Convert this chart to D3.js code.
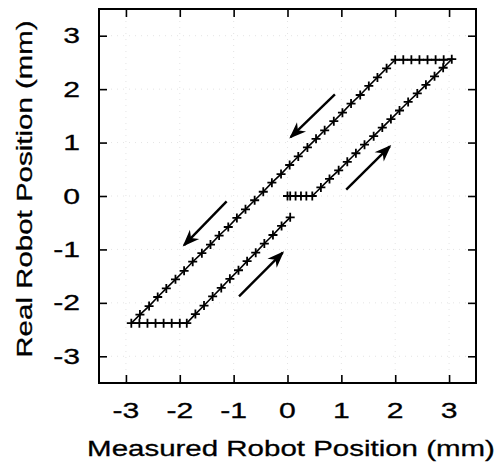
<!DOCTYPE html>
<html>
<head>
<meta charset="utf-8">
<script src="https://cdn.jsdelivr.net/npm/d3@7"></script>
<style>
  body { margin: 0; background: #fff; }
  text { font-family: "Liberation Sans", Arial, sans-serif; fill: #000; stroke: #000; stroke-width: 0.3px; }
</style>
</head>
<body>
<div id="chart"></div>
<script>
// Measured vs real position (mm)
// path order: backlash at 0, up the right side, across the top, down the left, across the bottom, up again
const measuredPos = [
    0.00, 0.05, 0.15, 0.25, 0.35, 0.46,
    0.62, 0.78, 0.95, 1.11, 1.27, 1.43, 1.60, 1.76, 1.92, 2.08, 2.24, 2.41, 2.57, 2.73, 2.89, 3.05,
    2.90, 2.75, 2.60, 2.45, 2.30, 2.15, 2.00,
    1.84, 1.67, 1.51, 1.35, 1.18, 1.02, 0.86, 0.69, 0.53, 0.37,
    0.20, 0.04, -0.12, -0.29, -0.45, -0.61, -0.78, -0.94, -1.10, -1.27,
    -1.43, -1.59, -1.76, -1.92, -2.08, -2.25, -2.41, -2.57, -2.74, -2.90,
    -2.75, -2.60, -2.45, -2.30, -2.15, -2.00, -1.87,
    -1.71, -1.55, -1.39, -1.23, -1.07, -0.91, -0.75, -0.59, -0.43, -0.27, -0.11, 0.05
];
const realPos = [
    0.00, 0.00, 0.00, 0.00, 0.00, 0.00,
    0.16, 0.32, 0.48, 0.64, 0.80, 0.96, 1.12, 1.28, 1.44, 1.60, 1.76, 1.92, 2.08, 2.24, 2.40, 2.56,
    2.55, 2.55, 2.55, 2.55, 2.55, 2.55, 2.55,
    2.39, 2.22, 2.06, 1.89, 1.73, 1.56, 1.40, 1.23, 1.07, 0.91,
    0.74, 0.58, 0.41, 0.25, 0.08, -0.08, -0.25, -0.41, -0.58, -0.74,
    -0.91, -1.07, -1.23, -1.40, -1.56, -1.73, -1.89, -2.06, -2.22, -2.38,
    -2.38, -2.38, -2.38, -2.38, -2.38, -2.38, -2.38,
    -2.21, -2.05, -1.88, -1.72, -1.55, -1.39, -1.22, -1.06, -0.89, -0.73, -0.56, -0.40
];

// direction arrows: tail (x1,y1) to head (x2,y2), in mm
const arrowX1 = [0.88, -1.13, 1.09, -0.90];
const arrowY1 = [1.90, -0.10, 0.12, -1.88];
const arrowX2 = [0.06, -1.92, 1.90, -0.09];
const arrowY2 = [1.10, -0.92, 0.93, -1.06];

const tickVals = [-3, -2, -1, 0, 1, 2, 3];
const xTitle = "Measured Robot Position (mm)";
const yTitle = "Real Robot Position (mm)";

const width = 499;
const height = 472;
const margin = {top: 9, left: 99, right: 23, bottom: 89};
const stretch = 1.34;   // the lettering in the picture is wide

const svg = d3.select("#chart")
    .append("svg")
    .attr("width", width)
    .attr("height", height);

const xScale = d3.scaleLinear()
    .domain([-3.5, 3.5])
    .range([margin.left, width - margin.right]);

const yScale = d3.scaleLinear()
    .domain([-3.5, 3.5])
    .range([height - margin.bottom, margin.top]);

const x0 = xScale.range()[0], x1 = xScale.range()[1];
const y0 = yScale.range()[1], y1 = yScale.range()[0];

// faint dotted grid (barely survives in the picture)
svg.append("g")
    .selectAll("line.gx")
    .data(tickVals)
    .enter()
    .append("line")
        .attr("x1", function(d) { return xScale(d); })
        .attr("x2", function(d) { return xScale(d); })
        .attr("y1", y0)
        .attr("y2", y1)
        .attr("stroke", "#e4e4e4")
        .attr("stroke-dasharray", "1,5");

svg.append("g")
    .selectAll("line.gy")
    .data(tickVals)
    .enter()
    .append("line")
        .attr("y1", function(d) { return yScale(d); })
        .attr("y2", function(d) { return yScale(d); })
        .attr("x1", x0)
        .attr("x2", x1)
        .attr("stroke", "#e4e4e4")
        .attr("stroke-dasharray", "1,5");

// inward ticks on all four sides
function tickAxis(axis, transform) {
    const g = svg.append("g")
        .attr("transform", transform)
        .call(axis.tickValues(tickVals).tickSizeInner(-8).tickSizeOuter(0).tickFormat(""));
    g.select(".domain").remove();
    g.selectAll(".tick line").attr("stroke", "#000").attr("stroke-width", 1.6);
}
tickAxis(d3.axisBottom(xScale), `translate(0,${y1})`);
tickAxis(d3.axisTop(xScale), `translate(0,${y0})`);
tickAxis(d3.axisLeft(yScale), `translate(${x0},0)`);
tickAxis(d3.axisRight(yScale), `translate(${x1},0)`);

// frame
svg.append("rect")
    .attr("x", x0)
    .attr("y", y0)
    .attr("width", x1 - x0)
    .attr("height", y1 - y0)
    .attr("fill", "none")
    .attr("stroke", "#000")
    .attr("stroke-width", 2);

// tick labels
svg.append("g")
    .selectAll("text")
    .data(tickVals)
    .enter()
    .append("text")
        .attr("transform", function(d) { return `translate(${xScale(d)},418) scale(${stretch},1)`; })
        .style("text-anchor", "middle")
        .style("font-size", "22.5px")
        .text(function(d) { return d; });

svg.append("g")
    .selectAll("text")
    .data(tickVals)
    .enter()
    .append("text")
        .attr("transform", function(d) { return `translate(80,${yScale(d) + 7.5}) scale(${stretch},1)`; })
        .style("text-anchor", "end")
        .style("font-size", "22.5px")
        .text(function(d) { return d; });

// axis titles
svg.append("text")
    .attr("transform", `translate(291,456) scale(${stretch},1)`)
    .style("text-anchor", "middle")
    .style("font-size", "22px")
    .text(xTitle);

svg.append("text")
    .attr("transform", `translate(32,189) rotate(-90) scale(${stretch},1)`)
    .style("text-anchor", "middle")
    .style("font-size", "22px")
    .text(yTitle);

// data
const points = measuredPos.map(function(d, i) {
    return {x: d, y: realPos[i]};
});

const line = d3.line()
    .x(function(d) { return xScale(d.x); })
    .y(function(d) { return yScale(d.y); });

svg.append("path")
    .datum(points)
    .attr("d", line)
    .attr("fill", "none")
    .attr("stroke", "#000")
    .attr("stroke-width", 1.6);

svg.append("g")
    .selectAll("path")
    .data(points)
    .enter()
    .append("path")
        .attr("transform", function(d) { return `translate(${xScale(d.x)},${yScale(d.y)})`; })
        .attr("d", "M-4.5,0H4.5M0,-4.5V4.5")
        .attr("stroke", "#000")
        .attr("stroke-width", 1.8);

// arrows
svg.append("defs")
    .append("marker")
        .attr("id", "head")
        .attr("viewBox", "-17 -8 20 16")
        .attr("markerWidth", 20)
        .attr("markerHeight", 16)
        .attr("markerUnits", "userSpaceOnUse")
        .attr("refX", 0)
        .attr("refY", 0)
        .attr("orient", "auto")
    .append("path")
        .attr("d", "M2,0L-15,-6.5L-10,0L-15,6.5Z")
        .attr("fill", "#000");

svg.append("g")
    .selectAll("line")
    .data(arrowX1)
    .enter()
    .append("line")
        .attr("x1", function(d) { return xScale(d); })
        .attr("y1", function(d, i) { return yScale(arrowY1[i]); })
        .attr("x2", function(d, i) { return xScale(arrowX2[i]); })
        .attr("y2", function(d, i) { return yScale(arrowY2[i]); })
        .attr("stroke", "#000")
        .attr("stroke-width", 2.4)
        .attr("marker-end", "url(#head)");
</script>
</body>
</html>
